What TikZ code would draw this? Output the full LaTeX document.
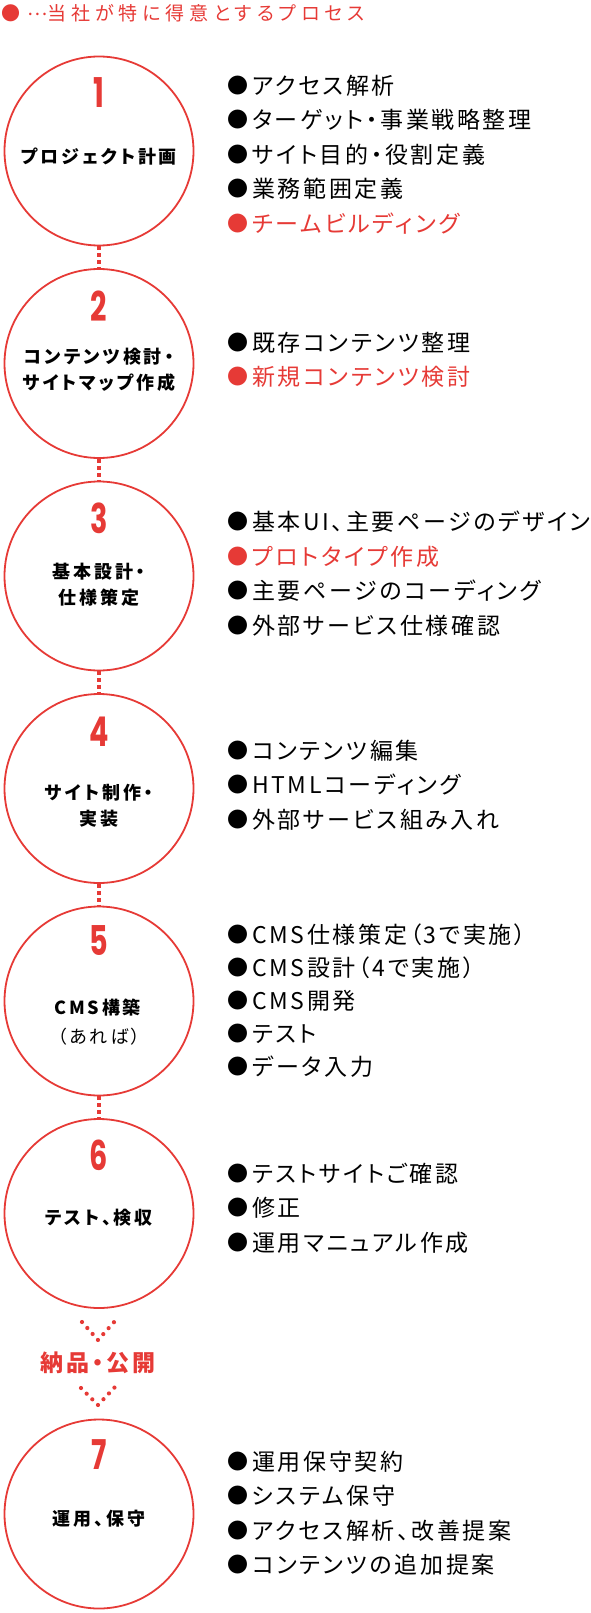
\documentclass[tikz,border=0pt]{standalone}
\usepackage{fontspec}
\setmainfont{Noto Sans CJK JP}[RawFeature=+palt,LetterSpace=11.5]
\newfontfamily\numfont{Poppins}
\definecolor{accent}{RGB}{230,58,54}
\newcommand{\itemdot}{{\fontsize{21}{21}\selectfont\raisebox{1pt}{●}}\hspace{4pt}}

\begin{document}
\begin{tikzpicture}[x=1pt,y=-1pt,line join=round,
  stepcircle/.style={circle,draw=accent,line width=1.8pt,minimum size=189pt,inner sep=0pt},
  stepno/.style={inner sep=0pt,text=accent,font=\numfont\bfseries\fontsize{41}{41}\selectfont},
  steplabel/.style={inner sep=0pt,align=center,font=\bfseries\fontsize{18}{26}\selectfont\addfontfeature{LetterSpace=16}},
  itemlist/.style={anchor=west,inner sep=0pt,align=left,font=\fontsize{23}{34.5}\selectfont},
  linkdots/.style={accent,line width=4pt,dash pattern=on 4pt off 3pt},
  chevdots/.style={accent,line width=4.2pt,line cap=round,dash pattern=on 0pt off 8pt}]
\useasboundingbox (0,0) rectangle (590,1613);
% legend
\node[anchor=west,inner sep=0pt,text=accent,font=\fontsize{19}{19}\selectfont\addfontfeature{LetterSpace=26}] (legend) at (1,13) {{\fontsize{19}{19}\selectfont●}\hspace{7pt}\raisebox{4.5pt}{…}当社が特に得意とするプロセス};
% step 1
\node[stepcircle] (c1) at (99,151) {};
\node[stepno] (n1) at (99,92.5) {\scalebox{0.7}[1]{1}};
\node[steplabel] (t1) at (99,157) {プロジェクト計画};
\node[itemlist] (l1) at (227,154.5) {\itemdot アクセス解析\\\itemdot ターゲット・事業戦略整理\\\itemdot サイト目的・役割定義\\\itemdot 業務範囲定義\\\textcolor{accent}{\itemdot チームビルディング}};
% step 2
\node[stepcircle] (c2) at (99,363.5) {};
\node[stepno] (n2) at (99,306.5) {\scalebox{0.7}[1]{2}};
\node[steplabel] (t2) at (99,370) {コンテンツ検討・\\サイトマップ作成};
\node[itemlist] (l2) at (227,360) {\itemdot 既存コンテンツ整理\\\textcolor{accent}{\itemdot 新規コンテンツ検討}};
% step 3
\node[stepcircle] (c3) at (99,576) {};
\node[stepno] (n3) at (99,518) {\scalebox{0.7}[1]{3}};
\node[steplabel] (t3) at (99,585) {基本設計・\\仕様策定};
\node[itemlist] (l3) at (227,573.5) {\itemdot 基本UI、主要ページのデザイン\\\textcolor{accent}{\itemdot プロトタイプ作成}\\\itemdot 主要ページのコーディング\\\itemdot 外部サービス仕様確認};
% step 4
\node[stepcircle] (c4) at (99,788.5) {};
\node[stepno] (n4) at (99,732) {\scalebox{0.7}[1]{4}};
\node[steplabel] (t4) at (99,806) {サイト制作・\\実装};
\node[itemlist] (l4) at (227,785) {\itemdot コンテンツ編集\\\itemdot HTMLコーディング\\\itemdot 外部サービス組み入れ};
% step 5
\node[stepcircle] (c5) at (99,1001) {};
\node[stepno] (n5) at (99,941) {\scalebox{0.7}[1]{5}};
\node[steplabel,font=\fontsize{18}{29}\selectfont\addfontfeature{LetterSpace=16}] (t5) at (99,1022) {\textbf{CMS構築}\\（あれば）};
\node[itemlist,font=\fontsize{23}{33}\selectfont] (l5) at (227,1001) {\itemdot CMS仕様策定（3で実施）\\\itemdot CMS設計（4で実施）\\\itemdot CMS開発\\\itemdot テスト\\\itemdot データ入力};
% step 6
\node[stepcircle] (c6) at (99,1213.5) {};
\node[stepno] (n6) at (99,1155) {\scalebox{0.7}[1]{6}};
\node[steplabel] (t6) at (99,1218) {テスト、検収};
\node[itemlist] (l6) at (227,1208) {\itemdot テストサイトご確認\\\itemdot 修正\\\itemdot 運用マニュアル作成};
% step 7
\node[stepcircle] (c7) at (99,1514) {};
\node[stepno] (n7) at (99,1455) {\scalebox{0.7}[1]{7}};
\node[steplabel] (t7) at (99,1519) {運用、保守};
\node[itemlist] (l7) at (227,1513) {\itemdot 運用保守契約\\\itemdot システム保守\\\itemdot アクセス解析、改善提案\\\itemdot コンテンツの追加提案};
% dotted links
\draw[linkdots] (c1.south) -- (c2.north);
\draw[linkdots] (c2.south) -- (c3.north);
\draw[linkdots] (c3.south) -- (c4.north);
\draw[linkdots] (c4.south) -- (c5.north);
\draw[linkdots] (c5.south) -- (c6.north);
% release
\coordinate (va) at (82,1322);
\coordinate (vb) at (98,1340);
\coordinate (vc) at (115,1321);
\draw[chevdots] (va) -- (vb) -- (vc);
\node[inner sep=0pt,text=accent,font=\bfseries\fontsize{23}{23}\selectfont\addfontfeature{LetterSpace=12}] (release) at (98,1363) {納品・公開};
\coordinate (wa) at (81,1388);
\coordinate (wb) at (98,1405);
\coordinate (wc) at (115,1387);
\draw[chevdots] (wa) -- (wb) -- (wc);
\end{tikzpicture}
\end{document}
